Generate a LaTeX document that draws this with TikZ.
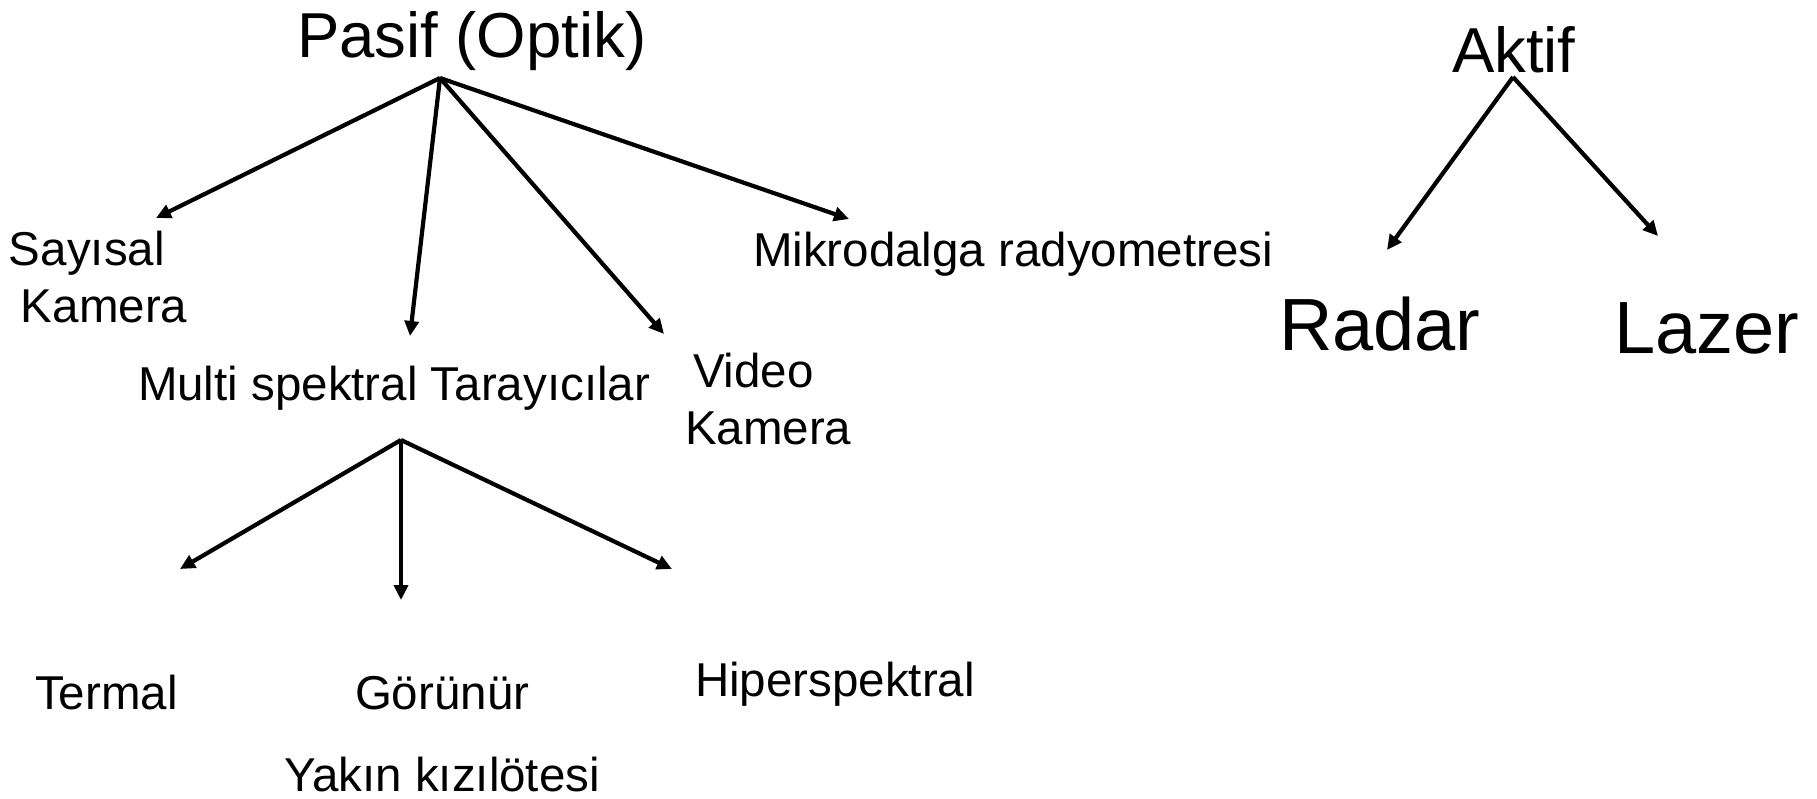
\documentclass[tikz,border=0pt]{standalone}
\usepackage{fontspec}
\setmainfont{Liberation Sans}
\usetikzlibrary{arrows.meta}
\begin{document}
\begin{tikzpicture}[x=1pt,y=-1pt,
  lbl/.style={anchor=base west,inner sep=0pt,outer sep=0pt,font=\fontsize{47.5}{57}\selectfont,align=left},
  big/.style={anchor=base west,inner sep=0pt,outer sep=0pt,font=\fontsize{63.5}{70}\selectfont},
  huge/.style={anchor=base west,inner sep=0pt,outer sep=0pt,font=\fontsize{74}{80}\selectfont},
  arr/.style={line width=4.2pt,-{Triangle[length=15pt,width=14pt]}}]
\useasboundingbox (0,0) rectangle (1817,798);
% titles
\node[big] (pasif) at (297,57) {Pasif (Optik)};
\node[big] (aktif) at (1452,72) {Aktif};
% leaves
\node[lbl] (sayisal) at (9,322) {Sayısal\\\hspace*{12pt}Kamera};
\node[lbl] (multi) at (138,400) {Multi spektral Tarayıcılar};
\node[lbl] (video) at (685,444) {\hspace*{8pt}Video\\Kamera};
\node[lbl] (mikro) at (753,266) {Mikrodalga radyometresi};
\node[huge] (radar) at (1279,350) {Radar};
\node[huge] (lazer) at (1614,353) {Lazer};
\node[lbl] (termal) at (35,709) {Termal};
\node[lbl] (gorunur) at (355,709) {Görünür};
\node[lbl] (hiper) at (695,696) {Hiperspektral};
\node[lbl] (yakin) at (284,791) {Yakın kızılötesi};
% connector end points
\coordinate (p0) at (440,78);
\coordinate (tS) at (156,218);
\coordinate (tM) at (410,336);
\coordinate (tV) at (664,334);
\coordinate (tK) at (849,219);
\coordinate (a0) at (1513,77);
\coordinate (tR) at (1387,250);
\coordinate (tL) at (1658,236);
\coordinate (m0) at (401,440);
\coordinate (tT) at (180,569);
\coordinate (tG) at (401,600);
\coordinate (tH) at (672,569);
% connectors
\draw[arr] (p0) -- (tS);
\draw[arr] (p0) -- (tM);
\draw[arr] (p0) -- (tV);
\draw[arr] (p0) -- (tK);
\draw[arr] (a0) -- (tR);
\draw[arr] (a0) -- (tL);
\draw[arr] (m0) -- (tT);
\draw[arr] (m0) -- (tG);
\draw[arr] (m0) -- (tH);
\end{tikzpicture}
\end{document}
